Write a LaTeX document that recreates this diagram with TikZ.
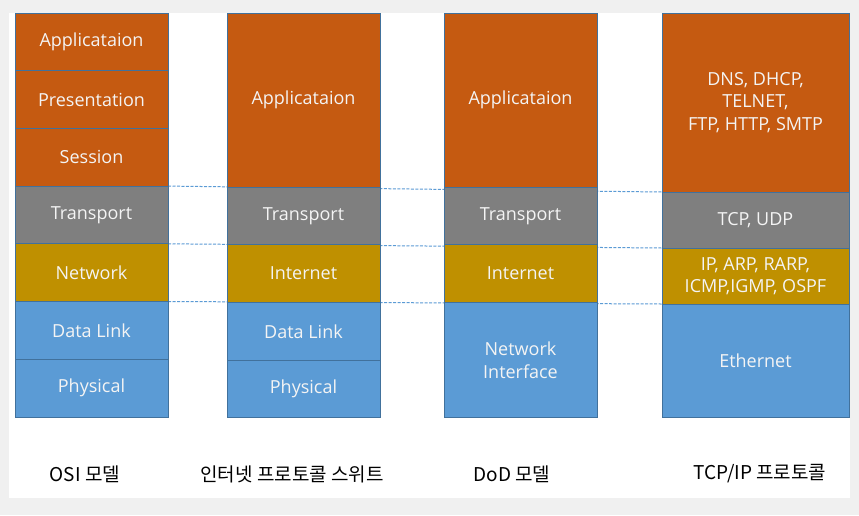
\documentclass[tikz,border=0pt]{standalone}
\usepackage{fontspec}
\setmainfont{Open Sans}
\newfontfamily\krfont{Noto Sans CJK KR}
\usepackage{tikz}
\usetikzlibrary{positioning,backgrounds}
\definecolor{appcol}{HTML}{C55A11}
\definecolor{tracol}{HTML}{7F7F7F}
\definecolor{netcol}{HTML}{BF9000}
\definecolor{lnkcol}{HTML}{5B9BD5}
\definecolor{edgecol}{HTML}{41719C}
\definecolor{pagecol}{HTML}{F0F0F0}
\definecolor{txtcol}{HTML}{F4F4F4}
\tikzset{
  lyr/.style={draw=edgecol, line width=0.7pt, minimum width=153pt, minimum height=57.7pt,
    inner sep=0pt, outer sep=0pt, align=center, text=txtcol,
    font=\fontsize{18}{22.5}\selectfont},
  appbox/.style={lyr, fill=appcol},
  trabox/.style={lyr, fill=tracol},
  netbox/.style={lyr, fill=netcol},
  lnkbox/.style={lyr, fill=lnkcol},
  tall/.style={minimum height=174pt},
  wide/.style={minimum width=187pt},
  sep/.style={draw=lnkcol, line width=1pt, dash pattern=on 3pt off 1.5pt},
  lbl/.style={font=\krfont\fontsize{19}{22}\selectfont, text=black, inner sep=0pt},
}
\begin{document}
\begin{tikzpicture}[x=1pt, y=-1pt]
  \useasboundingbox (0,0) rectangle (859,515);

  % OSI
  \node[appbox, anchor=north west] (osiApp) at (15,13) {Applicataion};
  \node[appbox, below=0pt of osiApp] (osiPre) {Presentation};
  \node[appbox, below=0pt of osiPre] (osiSes) {Session};
  \node[trabox, below=0pt of osiSes] (osiTra) {Transport};
  \node[netbox, below=0pt of osiTra] (osiNet) {Network};
  \node[lnkbox, below=0pt of osiNet] (osiDl) {Data Link};
  \node[lnkbox, below=0pt of osiDl] (osiPhy) {Physical};

  % internet protocol suite
  \node[appbox, tall, anchor=north west] (ipsApp) at (227,13) {Applicataion};
  \node[trabox, below=0pt of ipsApp] (ipsTra) {Transport};
  \node[netbox, below=0pt of ipsTra] (ipsInt) {Internet};
  \node[lnkbox, below=0pt of ipsInt] (ipsDl) {Data Link};
  \node[lnkbox, below=0pt of ipsDl] (ipsPhy) {Physical};

  % DoD
  \node[appbox, tall, anchor=north west] (dodApp) at (444,13) {Applicataion};
  \node[trabox, below=0pt of dodApp] (dodTra) {Transport};
  \node[netbox, below=0pt of dodTra] (dodInt) {Internet};
  \node[lnkbox, minimum height=115.4pt, below=0pt of dodInt] (dodNi) {Network\\Interface};

  % TCP/IP
  \node[appbox, wide, minimum height=179pt, anchor=north west] (tcpApp) at (662,13)
    {DNS, DHCP,\\TELNET,\\FTP, HTTP, SMTP};
  \node[trabox, wide, minimum height=56pt, below=0pt of tcpApp] (tcpTra) {TCP, UDP};
  \node[netbox, wide, minimum height=56pt, below=0pt of tcpTra] (tcpInt)
    {IP, ARP, RARP,\\ICMP,IGMP, OSPF};
  \node[lnkbox, wide, minimum height=113pt, below=0pt of tcpInt] (tcpEth) {Ethernet};

  % labels
  \node[lbl] (osiLbl) at (85,474) {OSI 모델};
  \node[lbl] (ipsLbl) at (292,474) {인터넷 프로토콜 스위트};
  \node[lbl] (dodLbl) at (512,474) {DoD 모델};
  \node[lbl] (tcpLbl) at (760,474) {TCP/IP 프로토콜};

  \begin{scope}[on background layer]
    \fill[pagecol] (0,0) rectangle (859,515);
    \fill[white] (9,13) rectangle (850,498);
    \draw[sep] (osiSes.south east) -- (tcpApp.south west);
    \draw[sep] (osiTra.south east) -- (tcpTra.south west);
    \draw[sep] (osiNet.south east) -- (tcpInt.south west);
  \end{scope}
\end{tikzpicture}
\end{document}
